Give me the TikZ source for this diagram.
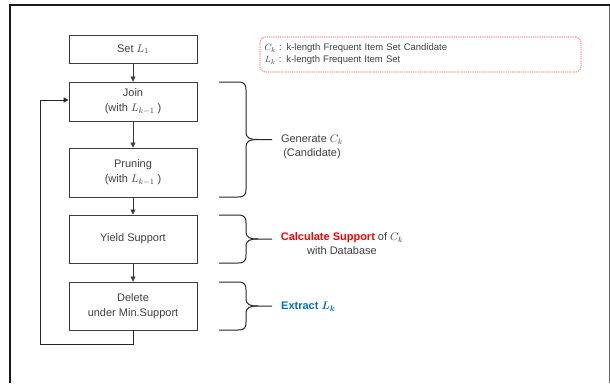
\documentclass[tikz,border=0pt]{standalone}
\usepackage{amsmath}
\usepackage{bm}
\usepackage{fontspec}
\setmainfont{Liberation Sans}
\usetikzlibrary{arrows.meta}
\definecolor{boxline}{RGB}{60,60,60}
\definecolor{txtgray}{RGB}{64,64,64}
\definecolor{hired}{RGB}{255,0,0}
\definecolor{hiblue}{RGB}{0,112,192}
\definecolor{legred}{RGB}{255,150,150}
\tikzset{
  stepbox/.style={draw=boxline, line width=0.9pt, minimum width=128pt, align=center, text=txtgray, inner sep=0pt, font=\fontsize{11}{14.5}\selectfont},
  flow/.style={draw=boxline, line width=0.6pt, -{Triangle[length=5pt,width=5pt]}},
  bracepath/.style={draw=black!85, line width=1pt},
  lbl/.style={align=center, text=txtgray, font=\fontsize{11}{14}\selectfont, inner sep=0pt}
}
\begin{document}
\begin{tikzpicture}[x=1pt,y=-1pt]
\useasboundingbox (0,0) rectangle (610,383);
\fill[white] (0,0) rectangle (610,383);
% frame
\draw[black!60, line width=0.8pt] (609,5) -- (609,383);
\draw[black!90, line width=1.4pt] (10,383) -- (10,5) -- (609.5,5);

\node[stepbox, minimum height=28pt] (set) at (133,49) {Set $L_1$};
\node[stepbox, minimum height=39pt] (join) at (133,101.5) {Join\\(with $L_{k-1}$ )};
\node[stepbox, minimum height=49pt] (prune) at (133,172.5) {Pruning\\(with $L_{k-1}$ )};
\node[stepbox, minimum height=48pt] (yield) at (133,239) {Yield Support};
\node[stepbox, minimum height=48pt] (del) at (133,306) {Delete\\under Min.Support};

\draw[flow] (set) -- (join);
\draw[flow] (join) -- (prune);
\draw[flow] (prune) -- (yield);
\draw[flow] (yield) -- (del);
\coordinate (lb) at (40,344);
\draw[flow, line width=1pt, draw=black!85] (del.south) |- (lb) |- ([yshift=1.5pt]join.west);

% legend
\node[draw=legred, densely dotted, line width=1.2pt, rounded corners=5pt, minimum width=321pt, minimum height=35pt, text width=312pt, align=left, text=txtgray, font=\fontsize{9.5}{12}\selectfont] (legend) at (420.5,54.5)
  {$C_k$ : k-length Frequent Item Set Candidate\\$L_k$ : k-length Frequent Item Set};

% braces
\foreach \t/\b in {82/197, 215/263, 282/330}{
  \pgfmathsetmacro{\m}{(\t+\b)/2}
  \draw[bracepath] (219,\t) -- (238,\t) .. controls (245,\t) and (246,\t+3) .. (246,\t+8)
    -- (246,\m-8) .. controls (246,\m-1) and (250,\m) .. (258,\m) -- (272,\m);
  \draw[bracepath] (219,\b) -- (238,\b) .. controls (245,\b) and (246,\b-3) .. (246,\b-8)
    -- (246,\m+8) .. controls (246,\m+1) and (250,\m) .. (258,\m);
}

\node[lbl] (gen) at (312,147) {Generate $C_k$\\(Candidate)};
\node[lbl] (calc) at (342,244) {\textcolor{hired}{\textbf{Calculate Support}} of $C_k$\\with Database};
\node[lbl, anchor=west] (ext) at (281,307) {\textcolor{hiblue}{\textbf{Extract $\bm{L_k}$}}};
\end{tikzpicture}
\end{document}
